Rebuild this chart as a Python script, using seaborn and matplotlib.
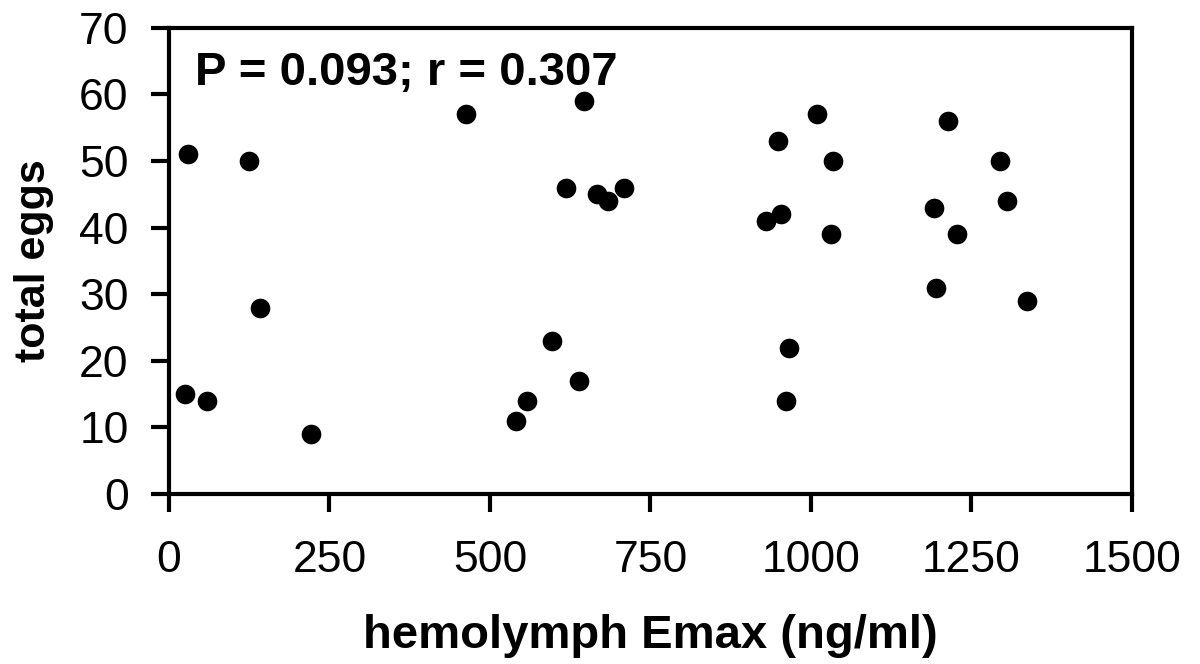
import numpy as np
import pandas as pd
import matplotlib
matplotlib.use('Agg')
import matplotlib.pyplot as plt
import seaborn as sns

# values
emax = [25, 30, 59, 124, 142, 222, 463, 541, 557, 596, 619, 638, 647, 666, 684, 709,
        930, 949, 953, 961, 966, 1009, 1034, 1031, 1191, 1194, 1213, 1227, 1295, 1306, 1336]
eggs = [15, 51, 14, 50, 28, 9, 57, 11, 14, 23, 46, 17, 59, 45, 44, 46,
        41, 53, 42, 14, 22, 57, 50, 39, 43, 31, 56, 39, 50, 44, 29]

df = pd.DataFrame({'emax': emax, 'eggs': eggs})

sns.set_style('ticks')
plt.rcParams['font.family'] = ['Liberation Sans', 'DejaVu Sans']
plt.rcParams.update({'text.color': 'black', 'axes.labelcolor': 'black',
                     'xtick.color': 'black', 'ytick.color': 'black'})

fig = plt.figure(figsize=(12, 6.64), dpi=100)
ax = fig.add_axes([0.1408, 0.256, 0.8025, 0.702])

sns.scatterplot(data=df, x='emax', y='eggs', ax=ax, color='black', s=200,
                edgecolor='black', linewidth=0, legend=False)

ax.set_xlim(0, 1500)
ax.set_ylim(0, 70)
ax.set_xticks([0, 250, 500, 750, 1000, 1250, 1500])
ax.set_yticks(range(0, 71, 10))
ax.tick_params(axis='both', labelsize=32, width=3, length=13, direction='out')
ax.tick_params(axis='x', pad=20)
ax.tick_params(axis='y', pad=16)
for sp in ax.spines.values():
    sp.set_linewidth(3)
    sp.set_color('black')

ax.set_xlabel('hemolymph Emax (ng/ml)', fontsize=34, fontweight='bold', labelpad=24)
ax.set_ylabel('total eggs', fontsize=31, fontweight='bold', labelpad=18)

ax.text(0.027, 0.95, 'P = 0.093; r = 0.307', transform=ax.transAxes, fontsize=34,
        fontweight='bold', va='top', ha='left')

fig.savefig('out.png', dpi=100)
